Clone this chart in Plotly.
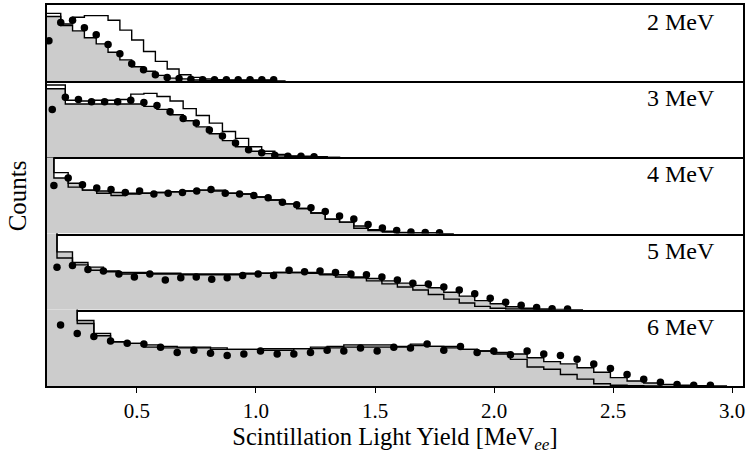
import numpy as np
import plotly.graph_objects as go
from plotly.subplots import make_subplots

# one panel per neutron energy
energies = ["2 MeV", "3 MeV", "4 MeV", "5 MeV", "6 MeV"]
first_bin = [0.130, 0.144, 0.151, 0.164, 0.179]
bin_width = [0.0497, 0.055, 0.06, 0.065, 0.07]

# measured points (black dots), normalised panel heights
meas_2 = [0.53, 0.77, 0.80, 0.70, 0.61, 0.48, 0.36, 0.23, 0.15, 0.085, 0.05, 0.035, 0.025,
          0.02, 0.02, 0.02, 0.02, 0.02, 0.02, 0.02]
meas_3 = [0.63, 0.79, 0.76, 0.73, 0.73, 0.73, 0.75, 0.72, 0.68, 0.60, 0.51, 0.45, 0.36,
          0.28, 0.19, 0.10, 0.06, 0.027, 0.015, 0.014, 0.01]
meas_4 = [0.63, 0.73, 0.64, 0.60, 0.58, 0.54, 0.56, 0.52, 0.53, 0.54, 0.56, 0.58, 0.53,
          0.52, 0.50, 0.47, 0.41, 0.38, 0.34, 0.29, 0.23, 0.19, 0.12, 0.075, 0.04, 0.02,
          0.015, 0.012]
meas_5 = [0.56, 0.58, 0.53, 0.51, 0.47, 0.43, 0.47, 0.39, 0.42, 0.43, 0.40, 0.42, 0.45,
          0.47, 0.45, 0.52, 0.50, 0.51, 0.49, 0.47, 0.46, 0.43, 0.39, 0.35, 0.34, 0.30,
          0.26, 0.21, 0.15, 0.10, 0.06, 0.03, 0.015, 0.01]
meas_6 = [0.80, 0.69, 0.65, 0.59, 0.56, 0.55, 0.51, 0.44, 0.47, 0.43, 0.40, 0.42, 0.46,
          0.42, 0.42, 0.44, 0.47, 0.46, 0.50, 0.46, 0.51, 0.50, 0.55, 0.47, 0.52, 0.44,
          0.46, 0.41, 0.46, 0.42, 0.40, 0.35, 0.29, 0.23, 0.15, 0.09, 0.05, 0.02, 0.01, 0.01]

# simulated spectrum, grey filled histogram (first bin starts one width before first dot)
fill_2 = [0.85, 0.85, 0.73, 0.66, 0.57, 0.49, 0.38, 0.28, 0.19, 0.13, 0.076, 0.04, 0.03,
          0.015, 0.012, 0.01, 0.01, 0.01, 0.01, 0.01, 0.0]
fill_3 = [0.90, 0.90, 0.70, 0.70, 0.70, 0.70, 0.70, 0.70, 0.67, 0.63, 0.56, 0.48, 0.40,
          0.31, 0.22, 0.14, 0.08, 0.05, 0.02, 0.013, 0.01, 0.005, 0.0]
fill_4 = [1.5, 0.73, 0.66, 0.57, 0.56, 0.54, 0.53, 0.53, 0.54, 0.55, 0.56, 0.57, 0.57,
          0.53, 0.52, 0.48, 0.44, 0.39, 0.33, 0.27, 0.19, 0.15, 0.10, 0.05, 0.03, 0.015,
          0.01, 0.01, 0.0]
fill_5 = [1.5, 0.76, 0.62, 0.56, 0.51, 0.49, 0.49, 0.48, 0.48, 0.47, 0.47, 0.47, 0.47,
          0.48, 0.48, 0.49, 0.49, 0.49, 0.47, 0.46, 0.43, 0.41, 0.38, 0.35, 0.32, 0.29,
          0.23, 0.18, 0.12, 0.08, 0.04, 0.02, 0.01, 0.005, 0.0]
fill_6 = [1.5, 1.5, 0.86, 0.69, 0.58, 0.56, 0.54, 0.50, 0.50, 0.50, 0.50, 0.48, 0.48,
          0.49, 0.49, 0.49, 0.51, 0.52, 0.54, 0.54, 0.54, 0.52, 0.55, 0.52, 0.52, 0.48,
          0.46, 0.44, 0.42, 0.37, 0.32, 0.29, 0.24, 0.18, 0.11, 0.065, 0.04, 0.02, 0.01,
          0.005, 0.0]

# second simulation, black outline histogram
line_2 = [0.89, 0.89, 0.75, 0.84, 0.86, 0.86, 0.80, 0.67, 0.54, 0.39, 0.26, 0.16, 0.085,
          0.05, 0.03, 0.02, 0.015, 0.015, 0.015, 0.015, 0.0]
line_3 = [0.95, 0.95, 0.75, 0.74, 0.75, 0.75, 0.76, 0.83, 0.84, 0.80, 0.74, 0.64, 0.55,
          0.45, 0.34, 0.25, 0.14, 0.08, 0.04, 0.02, 0.015, 0.01, 0.0]
line_4 = [1.5, 0.80, 0.61, 0.57, 0.53, 0.50, 0.52, 0.53, 0.54, 0.55, 0.56, 0.57, 0.56,
          0.53, 0.52, 0.48, 0.44, 0.39, 0.33, 0.27, 0.19, 0.15, 0.07, 0.04, 0.02, 0.01,
          0.01, 0.01, 0.0]
line_5 = [1.5, 0.68, 0.59, 0.52, 0.50, 0.47, 0.48, 0.47, 0.47, 0.46, 0.46, 0.46, 0.46,
          0.47, 0.48, 0.49, 0.49, 0.48, 0.46, 0.43, 0.42, 0.38, 0.34, 0.30, 0.26, 0.20,
          0.14, 0.09, 0.045, 0.02, 0.01, 0.005, 0.0]
line_6 = [1.5, 1.5, 0.82, 0.66, 0.58, 0.56, 0.51, 0.52, 0.51, 0.51, 0.48, 0.48, 0.48,
          0.47, 0.47, 0.49, 0.49, 0.50, 0.51, 0.51, 0.51, 0.51, 0.53, 0.52, 0.50, 0.48,
          0.46, 0.42, 0.35, 0.25, 0.22, 0.15, 0.09, 0.03, 0.01, 0.005, 0.0]

meas = [meas_2, meas_3, meas_4, meas_5, meas_6]
fills = [fill_2, fill_3, fill_4, fill_5, fill_6]
lines = [line_2, line_3, line_4, line_5, line_6]

FONT = "Liberation Serif"


def step_xy(x0, w, vals):
    x = x0 - w + w * np.arange(len(vals) + 1)
    y = list(vals) + [vals[-1]]
    return x, y


fig = make_subplots(rows=5, cols=1, shared_xaxes=True, vertical_spacing=0)

for i in range(5):
    row = i + 1
    x0, w = first_bin[i], bin_width[i]
    hx, hy = step_xy(x0, w, fills[i])
    fig.add_trace(go.Scatter(x=hx, y=hy, mode="lines", line_shape="hv",
                             fill="tozeroy", fillcolor="#cccccc",
                             line=dict(color="black", width=1.4)), row=row, col=1)
    lx, ly = step_xy(x0, w, lines[i])
    fig.add_trace(go.Scatter(x=lx, y=ly, mode="lines", line_shape="hv",
                             line=dict(color="black", width=1.4)), row=row, col=1)
    dx = x0 + w * np.arange(len(meas[i]))
    fig.add_trace(go.Scatter(x=dx, y=meas[i], mode="markers",
                             marker=dict(color="black", size=7.5)), row=row, col=1)
    fig.add_annotation(text=energies[i], xref="x domain", yref="y domain",
                       x=0.963, y=0.776, xanchor="right", yanchor="middle",
                       showarrow=False, font=dict(size=24, color="black", family=FONT),
                       row=row, col=1)

# only the bottom line of each panel, so shared borders are drawn once
fig.update_xaxes(range=[0.122, 3.046], showline=True, mirror=False, linecolor="black",
                 linewidth=1.5, showgrid=False, zeroline=False, ticks="",
                 showticklabels=False, automargin=False)
fig.update_xaxes(mirror=True, row=1, col=1)
fig.update_xaxes(ticks="outside", ticklen=5, tickwidth=1, tickcolor="black",
                 showticklabels=True, tick0=0.5, dtick=0.5, tickformat=".1f",
                 tickfont=dict(size=21, family=FONT, color="black"),
                 title=dict(text="Scintillation Light Yield [MeV<sub><i>ee</i></sub>]",
                            font=dict(size=24.5, family=FONT, color="black"), standoff=6),
                 row=5, col=1)
fig.update_yaxes(range=[0, 1.0], showline=True, mirror=True, linecolor="black",
                 linewidth=1.5, showgrid=False, zeroline=False, ticks="",
                 showticklabels=False, automargin=False)

fig.add_annotation(text="Counts", xref="paper", yref="paper", x=-0.043, y=0.498,
                   textangle=-90, showarrow=False, xanchor="center", yanchor="middle",
                   font=dict(size=25, family=FONT, color="black"))

fig.update_layout(width=748, height=460, showlegend=False,
                  margin=dict(l=47, r=5, t=5, b=74, autoexpand=False),
                  paper_bgcolor="white", plot_bgcolor="white")

# the page body has a default 8px margin; drop it so the figure sits at the corner
fig.write_html("out.html", config={"displayModeBar": False},
               post_script="document.body.style.margin='0px';")
